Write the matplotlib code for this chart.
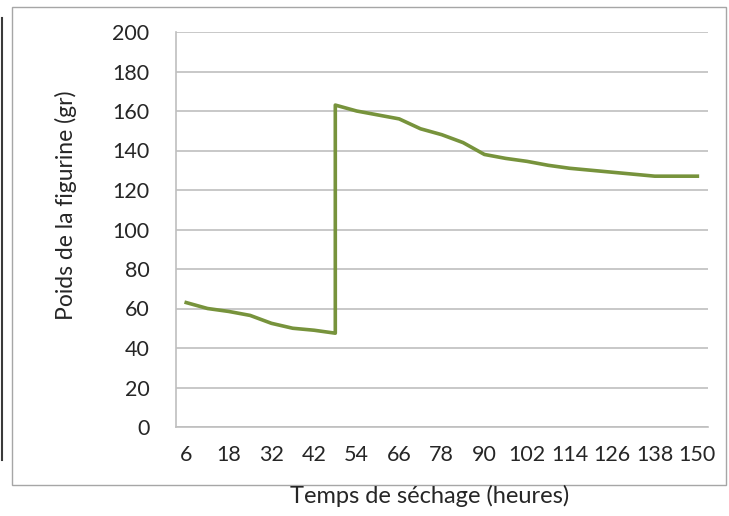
import numpy as np
import matplotlib
matplotlib.use("Agg")
import matplotlib.pyplot as plt
from matplotlib.patches import Rectangle
from matplotlib.lines import Line2D

plt.rcParams['font.family'] = ['Lato', 'DejaVu Sans']

# x axis labels (hours), one label every second data point
LABEL_HOURS = [6, 18, 32, 42, 54, 66, 78, 90, 102, 114, 126, 138, 150]

# measured points (hours, weight in g); 48 h appears twice -> vertical jump
hours = [6, 12, 18, 25, 32, 37, 42, 48, 48, 54, 60, 66, 72, 78, 84, 90,
         96, 102, 108, 114, 120, 126, 132, 138, 144, 150]
weight = [63, 60, 58.5, 56.5, 52.5, 50, 49, 47.5, 163, 160, 158, 156, 151,
          148, 144, 138, 136, 134.5, 132.5, 131, 130, 129, 128, 127, 127, 127]

# category position of each point on the axis
pos = np.interp(hours, LABEL_HOURS, np.arange(len(LABEL_HOURS)))

fig = plt.figure(figsize=(7.29, 5.16), dpi=100)
ax = fig.add_axes([176 / 729, 89 / 516, 532 / 729, 395 / 516])

ax.plot(pos, weight, color='#77933c', lw=2.6, solid_joinstyle='round')

ax.set_ylim(0, 200)
ax.set_yticks(np.arange(0, 201, 20))
ax.set_xlim(-0.24, len(LABEL_HOURS) - 1 + 0.25)
ax.set_xticks(np.arange(len(LABEL_HOURS)))
ax.set_xticklabels([str(h) for h in LABEL_HOURS])

ax.grid(axis='y', color='#bfbfbf', lw=1.2)
ax.set_axisbelow(True)
for s in ['top', 'right']:
    ax.spines[s].set_visible(False)
ax.spines['left'].set_color('#bfbfbf')
ax.spines['bottom'].set_color('#bfbfbf')
ax.spines['left'].set_linewidth(1.2)
ax.spines['bottom'].set_linewidth(1.2)
ax.tick_params(axis='both', length=0, labelsize=15.5, colors='#262626')
ax.tick_params(axis='y', pad=19)
ax.tick_params(axis='x', pad=13)

fig.text(66 / 729, 1 - 205 / 516, 'Poids de la figurine (gr)', rotation=90,
         ha='center', va='center', fontsize=16.5, color='#262626')
fig.text(430 / 729, 1 - 496 / 516, 'Temps de séchage (heures)',
         ha='center', va='center', fontsize=17, color='#262626')

# chart frame
fig.patches.append(Rectangle((12 / 729, 1 - 485 / 516), 714 / 729, 478 / 516,
                             transform=fig.transFigure, fill=False,
                             edgecolor='#a6a6a6', lw=1.0))
fig.lines.append(Line2D([1.5 / 729, 1.5 / 729], [1 - 18 / 516, 1 - 460 / 516],
                        transform=fig.transFigure, color='#3a3a3a', lw=1.5))

fig.savefig('out.png', dpi=100)
